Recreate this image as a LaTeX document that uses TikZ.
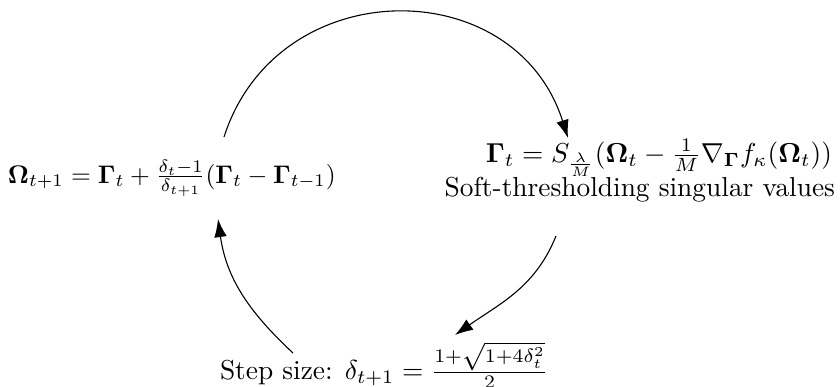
\documentclass[tikz,border=0pt]{standalone}
\usepackage{amsmath}
\usetikzlibrary{arrows.meta}
\begin{document}
\begin{tikzpicture}[x=0.365pt,y=0.365pt,
  lbl/.style={inner sep=0pt,outer sep=0pt},
  flow/.style={-{Latex[length=6.6pt,width=4.6pt]},line width=0.4pt}]
\useasboundingbox (0,0) rectangle (840,386);
\node[lbl,anchor=base west,scale=0.93] (omega) at (8,203)
  {$\mathbf{\Omega}_{t+1} = \mathbf{\Gamma}_t + \frac{\delta_t-1}{\delta_{t+1}}(\mathbf{\Gamma}_t - \mathbf{\Gamma}_{t-1})$};
\node[lbl,anchor=base east] (gamma) at (832,224)
  {$\mathbf{\Gamma}_t = S_{\frac{\lambda}{M}}(\mathbf{\Omega}_t - \frac{1}{M}\nabla_{\mathbf{\Gamma}} f_\kappa(\mathbf{\Omega}_t))$};
\node[lbl,anchor=base east] (soft) at (835,190) {Soft-thresholding singular values};
\node[lbl,anchor=base west] (step) at (220,7)
  {Step size: $\delta_{t+1} = \frac{1+\sqrt{1+4\delta_t^2}}{2}$};
\coordinate (a1) at (224,249);
\coordinate (a2) at (568,248);
\coordinate (b1) at (556,150);
\coordinate (b2) at (455,51);
\coordinate (c1) at (293,33);
\coordinate (c2) at (218,167);
\draw[flow] (a1) .. controls (277,414) and (515,415) .. (a2);
\draw[flow] (b1) to[out=-112,in=35] (b2);
\draw[flow] (c1) to[out=137,in=-82] (c2);
\end{tikzpicture}
\end{document}
